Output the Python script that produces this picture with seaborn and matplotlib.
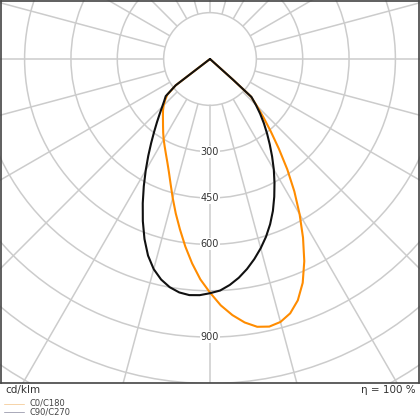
import numpy as np
import matplotlib
matplotlib.use("Agg")
import matplotlib.pyplot as plt
import seaborn as sns

# ==============================
# DATOS (cd/klm vs. ángulo gamma)
# ==============================

# C0 (derecha) / C180 (izquierda)
gamma_c0 = [0, 2.5, 5, 7.5, 10, 12.5, 15, 17.5, 20, 22.5, 25, 27.5, 30,
            32.5, 35, 37.5, 40, 42.5, 45, 47.5, 48, 48.5]
int_c0 = [756, 798, 832, 860, 880, 887, 881, 863, 831, 784, 722, 652, 580,
          508, 436, 366, 306, 256, 214, 179, 100, 0]

gamma_c180 = [0, 2.5, 5, 7.5, 10, 12.5, 15, 17.5, 20, 22.5, 25, 27.5, 30,
              32.5, 35, 37.5, 40, 42.5, 45, 47.5, 50, 52.5, 55]
int_c180 = [756, 714, 664, 612, 560, 512, 466, 424, 389, 361, 338, 318, 300,
            282, 265, 250, 237, 225, 212, 197, 181, 140, 0]

# C90 (derecha) / C270 (izquierda)
gamma_c90 = [0, 2.5, 5, 7.5, 10, 12.5, 15, 17.5, 20, 22.5, 25, 27.5, 30,
             32.5, 35, 37.5, 40, 42.5, 45, 47.5, 48, 48.5]
int_c90 = [758, 750, 734, 714, 690, 663, 634, 603, 569, 532, 492, 452, 413,
           374, 337, 303, 271, 240, 210, 182, 100, 0]

gamma_c270 = [0, 2.5, 5, 7.5, 10, 12.5, 15, 17.5, 20, 22.5, 25, 27.5, 30,
              32.5, 35, 37.5, 40, 42.5, 45, 47.5, 50, 52.5, 55]
int_c270 = [758, 765, 767, 762, 750, 731, 704, 667, 620, 568, 515, 464, 416,
            372, 332, 297, 267, 241, 219, 201, 187, 140, 0]

rings = [150, 300, 450, 600, 750, 900, 1050, 1200, 1350, 1500]
ring_labels = [300, 450, 600, 900]
spoke_angles = np.arange(0, 360, 15)

ORANGE = "#ff8c00"
BLACK = "#111111"
GRID = "#cccccc"

# ==============================
# FIGURA
# ==============================

sns.set_style("white")
plt.rcParams["font.family"] = ["DejaVu Sans"]

W = 420
fig = plt.figure(figsize=(4.2, 4.2), dpi=100)

px_per_cd = 0.309
rmax = 1500
half = rmax * px_per_cd / W
cx, cy = 210 / W, 1 - 59 / W
ax = fig.add_axes([cx - half, cy - half, 2 * half, 2 * half], projection="polar")
ax.set_theta_zero_location("S")
ax.set_theta_direction(1)
ax.set_ylim(0, rmax)
ax.set_xticks([])
ax.set_yticks(rings)
ax.set_yticklabels([])
ax.yaxis.grid(True, color=GRID, linewidth=1.1)
ax.spines["polar"].set_visible(False)
ax.set_facecolor("none")

ax.vlines(np.deg2rad(spoke_angles), 150, rmax, colors=GRID, linewidth=1.1, zorder=1)


def curva(g_der, i_der, g_izq, i_izq):
    theta = np.concatenate([-np.deg2rad(g_izq)[::-1], np.deg2rad(g_der)])
    r = np.concatenate([np.array(i_izq)[::-1], np.array(i_der)])
    return theta, r


t0, r0 = curva(gamma_c0, int_c0, gamma_c180, int_c180)
t90, r90 = curva(gamma_c90, int_c90, gamma_c270, int_c270)

sns.lineplot(x=t0, y=r0, ax=ax, sort=False, estimator=None, color=ORANGE,
             linewidth=1.5, zorder=3, solid_joinstyle="round")
sns.lineplot(x=t90, y=r90, ax=ax, sort=False, estimator=None, color=BLACK,
             linewidth=1.5, zorder=4, solid_joinstyle="round")
ax.set_xlabel("")
ax.set_ylabel("")

for v in ring_labels:
    ax.text(0, v, str(v), ha="center", va="center", fontsize=7, color="#333333",
            zorder=5, bbox=dict(facecolor="white", edgecolor="none", pad=0.8))

# zona inferior blanca (texto y leyenda)
frame_bottom = 1 - 383 / W
ax_low = fig.add_axes([0, 0, 1, frame_bottom])
ax_low.set_xlim(0, W)
ax_low.set_ylim(W - 383, 0)
ax_low.set_facecolor("white")
for s in ax_low.spines.values():
    s.set_visible(False)
ax_low.set_xticks([])
ax_low.set_yticks([])
ax_low.set_zorder(5)

ax_low.text(5, 7, "cd/klm", ha="left", va="center", fontsize=7.5, color="#333333")
ax_low.text(416, 7, "η = 100 %", ha="right", va="center", fontsize=7.5, color="#333333")
ax_low.plot([4, 24], [21, 21], color="#f6d3a8", linewidth=0.7)
ax_low.plot([4, 24], [29, 29], color="#a9a9b8", linewidth=0.7)
ax_low.text(30, 20.5, "C0/C180", ha="left", va="center", fontsize=6, color="#444444")
ax_low.text(30, 29, "C90/C270", ha="left", va="center", fontsize=6, color="#444444")

# marco
ax_frame = fig.add_axes([1 / W, frame_bottom, 1 - 2 / W, 1 - frame_bottom - 0.5 / W])
ax_frame.set_facecolor("none")
ax_frame.set_xticks([])
ax_frame.set_yticks([])
for s in ax_frame.spines.values():
    s.set_visible(True)
    s.set_color("#444444")
    s.set_linewidth(1.2)
ax_frame.set_zorder(6)

fig.savefig("out.png", dpi=100)
